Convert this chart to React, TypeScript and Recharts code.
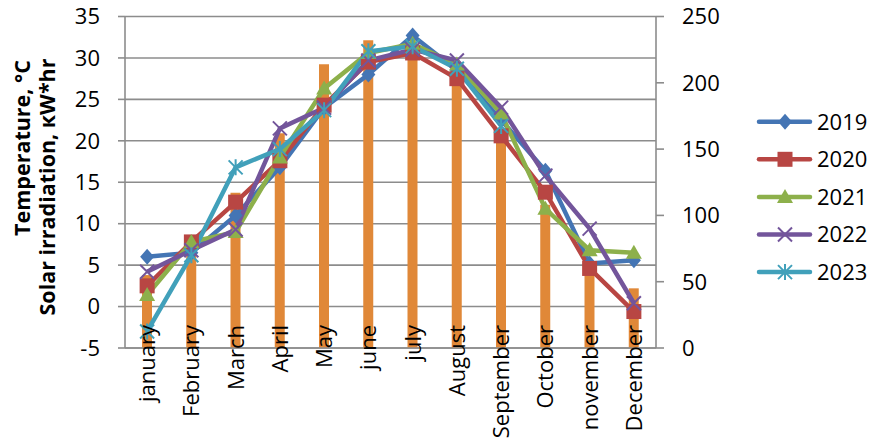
import React from 'react';
import { ComposedChart, Bar, Line, XAxis, YAxis, CartesianGrid } from 'recharts';

const months = ['january', 'February', 'March', 'April', 'May', 'june', 'july', 'August', 'September', 'October', 'november', 'December'];
const irradiation = [55, 85, 117, 162, 214, 232, 228, 200, 158, 108, 60, 45];
const t2019 = [6, 6.5, 11, 16.8, 24, 28, 32.7, 28.5, 22.5, 16.4, 5.2, 5.6];
const t2020 = [2.5, 7.8, 12.6, 17.6, 24.3, 29.5, 30.6, 27.5, 20.6, 13.8, 4.6, -0.6];
const t2021 = [1.4, 7.8, 9, 18, 26.3, 30.6, 31.7, 29.2, 23.3, 11.8, 6.8, 6.5];
const t2022 = [4.2, 6.8, 9.3, 21.5, 24, 29.7, 31, 29.7, 24, 15.8, 9.4, 0.4];
const t2023 = [-3, 6.2, 16.8, 19, 23.7, 30.8, 31.4, 28.7, 21.8, null, null, null];

const tempTicks = [-5, 0, 5, 10, 15, 20, 25, 30, 35];
const irrTicks = [0, 50, 100, 150, 200, 250];

const series = [
  { key: 'y2019', name: '2019', values: t2019, color: '#4475B4', marker: 'diamond' },
  { key: 'y2020', name: '2020', values: t2020, color: '#B84643', marker: 'square' },
  { key: 'y2021', name: '2021', values: t2021, color: '#8DB04B', marker: 'triangle' },
  { key: 'y2022', name: '2022', values: t2022, color: '#73559B', marker: 'x' },
  { key: 'y2023', name: '2023', values: t2023, color: '#41A0BA', marker: 'star' },
];

const data = months.map((m, i) => {
  const row: any = { month: m, irr: irradiation[i] };
  series.forEach(s => { row[s.key] = s.values[i]; });
  return row;
});

const FONT = '"Open Sans", sans-serif';
const GRID = '#8c8c8c';

function Marker({ type, x, y, color }: { type: string; x: number; y: number; color: string }) {
  switch (type) {
    case 'diamond':
      return <path d={`M${x},${y - 8} L${x + 7},${y} L${x},${y + 8} L${x - 7},${y} Z`} fill={color} />;
    case 'square':
      return <rect x={x - 7.5} y={y - 7.5} width={15} height={15} fill={color} />;
    case 'triangle':
      return <path d={`M${x},${y - 8} L${x + 8},${y + 6} L${x - 8},${y + 6} Z`} fill={color} />;
    case 'x':
      return (
        <path d={`M${x - 7},${y - 7} L${x + 7},${y + 7} M${x + 7},${y - 7} L${x - 7},${y + 7}`} stroke={color} strokeWidth={2} />
      );
    default:
      return (
        <path
          d={`M${x - 7},${y - 7} L${x + 7},${y + 7} M${x + 7},${y - 7} L${x - 7},${y + 7} M${x},${y - 8} L${x},${y + 8}`}
          stroke={color}
          strokeWidth={2}
        />
      );
  }
}

const makeDot = (type: string, color: string) => (props: any) => {
  const { cx, cy, index } = props;
  if (cx == null || cy == null || props.value == null) return <g key={`d-${index}`} />;
  return (
    <g key={`d-${index}`}>
      <Marker type={type} x={cx} y={cy} color={color} />
    </g>
  );
};

const MonthTick = (props: any) => {
  const { x, y, payload } = props;
  const ty = y - 23;
  return (
    <text
      x={x}
      y={ty}
      transform={`rotate(-90, ${x}, ${ty})`}
      textAnchor="end"
      dy="0.36em"
      fontSize={22}
      fontFamily={FONT}
      fill="#000"
    >
      {payload.value}
    </text>
  );
};

const AxisTitle = () => (
  <g fontFamily={FONT} fontWeight="bold" fontSize={21.5} fill="#000">
    <text x={22} y={148} transform="rotate(-90, 22, 148)" textAnchor="middle" dy="0.36em">
      Temperature, °C
    </text>
    <text x={47} y={187} transform="rotate(-90, 47, 187)" textAnchor="middle" dy="0.36em">
      Solar irradiation, кW*hr
    </text>
  </g>
);

export default function App() {
  return (
    <div style={{ position: 'absolute', left: 0, top: 0, width: 873, height: 447, background: '#fff' }}>
      <ComposedChart
        width={873}
        height={447}
        data={data}
        margin={{ top: 16.5, right: 147, left: 0, bottom: 0 }}
        barCategoryGap={0}
      >
        <CartesianGrid yAxisId="left" vertical={false} stroke={GRID} strokeWidth={1.6} />
        <XAxis
          dataKey="month"
          height={99}
          interval={0}
          tickLine={false}
          tickSize={0}
          tickMargin={0}
          axisLine={{ stroke: GRID, strokeWidth: 1.6 }}
          tick={<MonthTick />}
        />
        <YAxis
          yAxisId="left"
          width={125}
          domain={[-5, 35]}
          ticks={tempTicks}
          interval={0}
          tickSize={7}
          tickMargin={18}
          axisLine={{ stroke: GRID, strokeWidth: 1.6 }}
          tickLine={{ stroke: GRID, strokeWidth: 1.6 }}
          tick={{ fontSize: 22, fontFamily: FONT, fill: '#000' }}
          label={{ content: () => <AxisTitle /> }}
        />
        <YAxis
          yAxisId="right"
          orientation="right"
          width={70}
          domain={[0, 250]}
          ticks={irrTicks}
          interval={0}
          tickSize={8}
          tickMargin={18}
          axisLine={{ stroke: GRID, strokeWidth: 1.6 }}
          tickLine={{ stroke: GRID, strokeWidth: 1.6 }}
          tick={{ fontSize: 22, fontFamily: FONT, fill: '#000', textAnchor: 'start' }}
        />
        <Bar yAxisId="right" dataKey="irr" fill="#E08838" barSize={10} isAnimationActive={false} />
        {series.map(s => (
          <Line
            key={s.key}
            yAxisId="left"
            type="linear"
            dataKey={s.key}
            stroke={s.color}
            strokeWidth={4.5}
            dot={makeDot(s.marker, s.color)}
            activeDot={false}
            connectNulls={false}
            isAnimationActive={false}
          />
        ))}
      </ComposedChart>
      <svg width={120} height={200} style={{ position: 'absolute', left: 753, top: 100 }}>
        {series.map((s, i) => {
          const y = 21.7 + i * 37.6;
          return (
            <g key={s.key}>
              <line x1={6} y1={y} x2={57} y2={y} stroke={s.color} strokeWidth={4.5} strokeLinecap="round" />
              <Marker type={s.marker} x={32} y={y} color={s.color} />
              <text x={64} y={y} dy="0.36em" fontSize={22} fontFamily={FONT} fill="#000">
                {s.name}
              </text>
            </g>
          );
        })}
      </svg>
    </div>
  );
}
